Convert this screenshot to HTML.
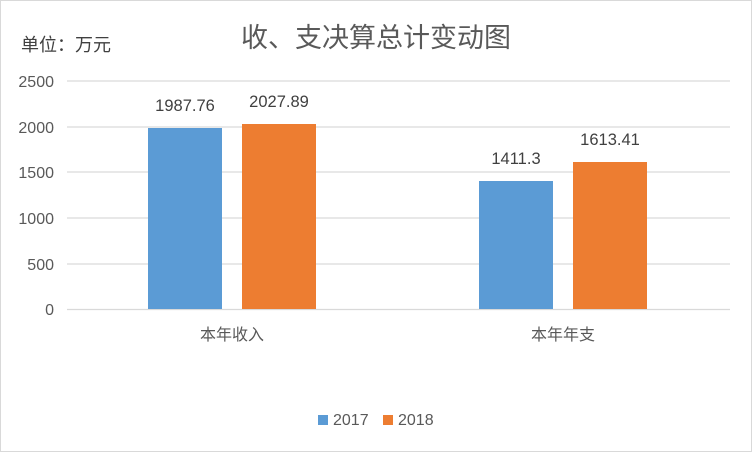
<!DOCTYPE html>
<html><head><meta charset="utf-8"><style>
body{margin:0;background:#fff}
</style></head><body>
<svg width="752" height="452" xmlns="http://www.w3.org/2000/svg" style="display:block;font-family:'Liberation Sans','Noto Sans CJK SC',sans-serif">
<rect x="0.5" y="0.5" width="751" height="451" fill="#fff" stroke="#d9d9d9"/>
<text x="376" y="47" font-size="27" fill="#595959" text-anchor="middle">收、支决算总计变动图</text>
<text x="21" y="51" font-size="18" fill="#404040">单位：万元</text>
<g stroke="#d9d9d9" stroke-width="1.3">
<line x1="67" y1="81" x2="730" y2="81"/>
<line x1="67" y1="127" x2="730" y2="127"/>
<line x1="67" y1="172" x2="730" y2="172"/>
<line x1="67" y1="218" x2="730" y2="218"/>
<line x1="67" y1="264" x2="730" y2="264"/>
<line x1="67" y1="309.5" x2="730" y2="309.5"/>
</g>
<g font-size="16" fill="#595959" text-anchor="end">
<text x="54" y="87">2500</text>
<text x="54" y="133">2000</text>
<text x="54" y="178">1500</text>
<text x="54" y="224">1000</text>
<text x="54" y="270">500</text>
<text x="54" y="315">0</text>
</g>
<rect x="148" y="128" width="74" height="181" fill="#5b9bd5"/>
<rect x="242" y="124" width="74" height="185" fill="#ed7d31"/>
<rect x="479" y="181" width="74" height="128" fill="#5b9bd5"/>
<rect x="573" y="162" width="74" height="147" fill="#ed7d31"/>
<g font-size="16.5" fill="#404040" text-anchor="middle">
<text x="185" y="111">1987.76</text>
<text x="279" y="107">2027.89</text>
<text x="516" y="164">1411.3</text>
<text x="610" y="145">1613.41</text>
</g>
<g font-size="16" fill="#595959" text-anchor="middle">
<text x="232" y="340">本年收入</text>
<text x="563" y="340">本年年支</text>
</g>
<rect x="318" y="415" width="10" height="10" fill="#5b9bd5"/>
<text x="333" y="425" font-size="16" fill="#595959">2017</text>
<rect x="383" y="415" width="10" height="10" fill="#ed7d31"/>
<text x="398" y="425" font-size="16" fill="#595959">2018</text>
</svg>
</body></html>
